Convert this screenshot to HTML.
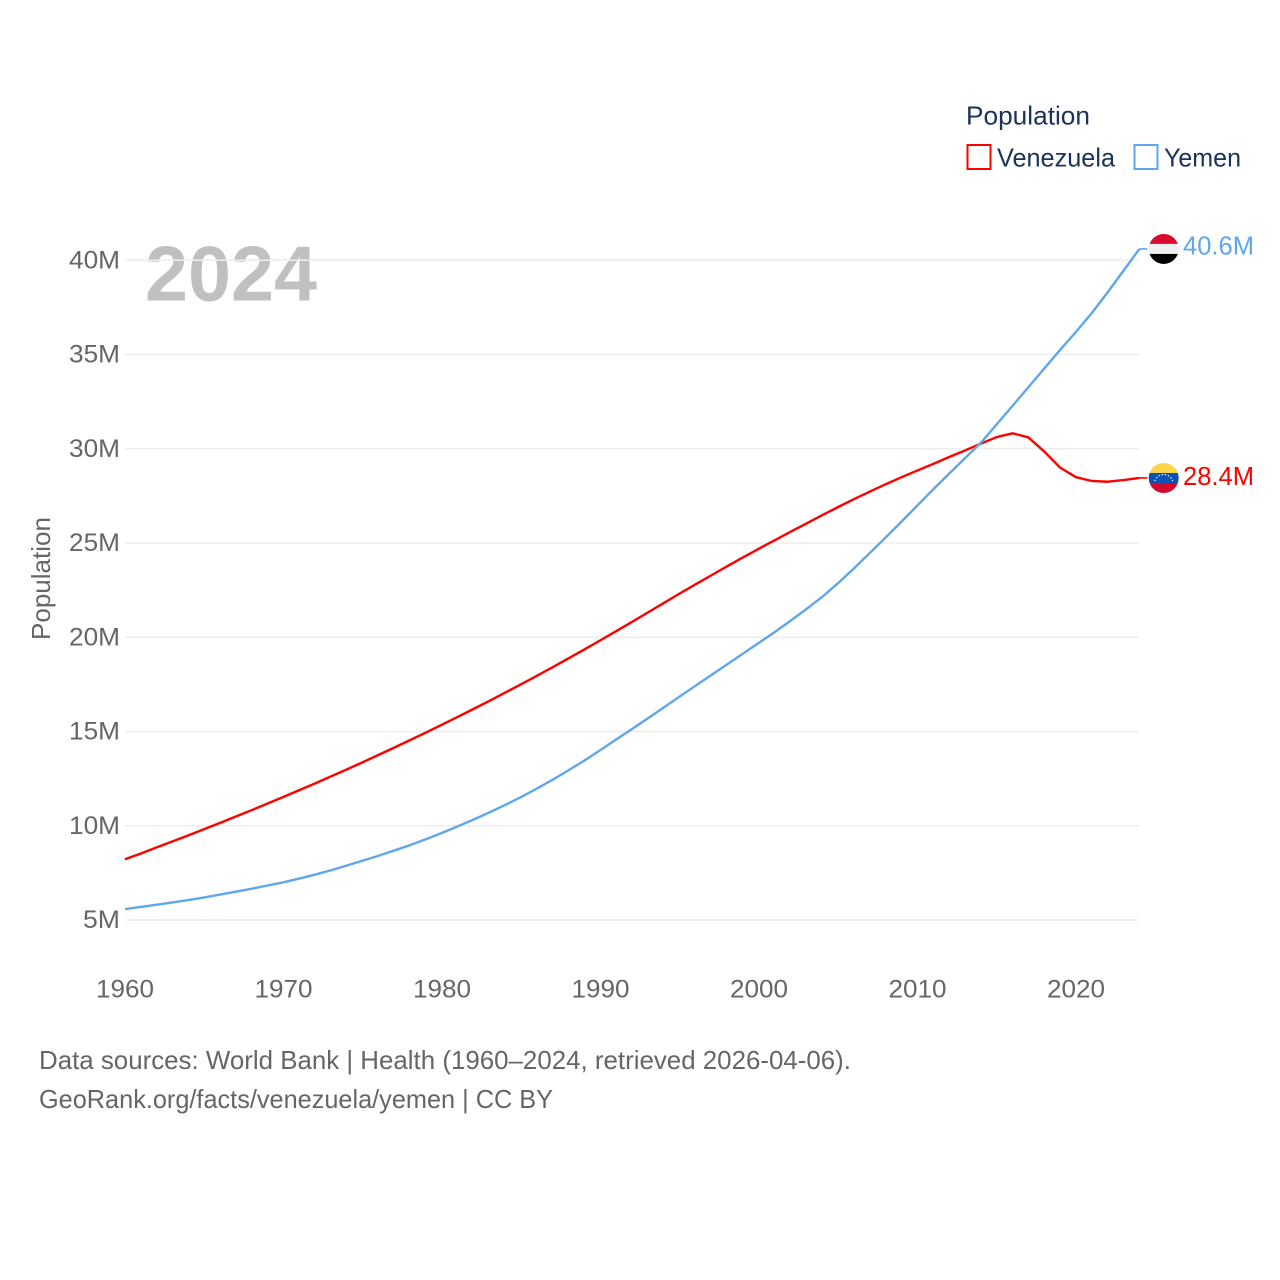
<!DOCTYPE html>
<html lang="en">
<head>
<meta charset="utf-8">
<title>Population: Venezuela and Yemen</title>
<style>
html,body{margin:0;padding:0;background:#fff;width:1280px;height:1280px;overflow:hidden}
svg{display:block}
text{font-family:"Liberation Sans",sans-serif;font-size:25px;fill:#666}
</style>
</head>
<body>
<svg id="chart" xmlns="http://www.w3.org/2000/svg" width="1280" height="1280" viewBox="0 0 1280 1280">
  <defs>
    <clipPath id="clip-flag"><circle cx="0" cy="0" r="15"></circle></clipPath>
  </defs>
  <rect width="1280" height="1280" fill="#fff"></rect>
  <text x="145" y="300.5" textLength="172" lengthAdjust="spacingAndGlyphs" style="font-size:78px;font-weight:bold;fill:#333;fill-opacity:.31">2024</text>
  <g id="grid"></g>
  <g id="y-axis"></g>
  <g id="x-axis"></g>
  <g id="series"></g>
  <g id="endpoints"></g>

  <text transform="translate(50,640) rotate(-90)" textLength="123" lengthAdjust="spacingAndGlyphs" style="font-size:26px">Population</text>

  <g>
    <text x="966" y="124.5" textLength="124" lengthAdjust="spacingAndGlyphs" style="font-size:26px;fill:#1a3358">Population</text>
    <rect x="967.5" y="145" width="23" height="24" fill="#fff" stroke="#ff0000" stroke-width="2"></rect>
    <text x="997" y="166.5" textLength="118" lengthAdjust="spacingAndGlyphs" style="font-size:26px;fill:#1a3358">Venezuela</text>
    <rect x="1134.5" y="145" width="23" height="24" fill="#fff" stroke="#5ea6ee" stroke-width="2"></rect>
    <text x="1164" y="166.5" textLength="77" lengthAdjust="spacingAndGlyphs" style="font-size:26px;fill:#1a3358">Yemen</text>
  </g>

  <text x="39" y="1069" textLength="812" lengthAdjust="spacingAndGlyphs" style="font-size:26px">Data sources: World Bank | Health (1960–2024, retrieved 2026-04-06).</text>
  <text x="39" y="1108" textLength="514" lengthAdjust="spacingAndGlyphs" style="font-size:26px">GeoRank.org/facts/venezuela/yemen | CC BY</text>
</svg>

<script>
const years = [1960,1961,1962,1963,1964,1965,1966,1967,1968,1969,1970,1971,1972,1973,1974,1975,1976,1977,1978,1979,1980,1981,1982,1983,1984,1985,1986,1987,1988,1989,1990,1991,1992,1993,1994,1995,1996,1997,1998,1999,2000,2001,2002,2003,2004,2005,2006,2007,2008,2009,2010,2011,2012,2013,2014,2015,2016,2017,2018,2019,2020,2021,2022,2023,2024];
const venezuela = [8.22,8.53,8.85,9.17,9.49,9.82,10.15,10.49,10.83,11.18,11.53,11.89,12.25,12.62,12.99,13.37,13.76,14.15,14.55,14.95,15.36,15.78,16.2,16.63,17.07,17.51,17.96,18.42,18.89,19.36,19.84,20.33,20.82,21.32,21.82,22.32,22.81,23.29,23.77,24.24,24.7,25.15,25.6,26.04,26.48,26.91,27.33,27.73,28.12,28.49,28.85,29.2,29.56,29.91,30.27,30.62,30.82,30.6,29.85,29.0,28.49,28.29,28.25,28.34,28.45];
const yemen = [5.58,5.69,5.81,5.93,6.06,6.2,6.35,6.5,6.66,6.83,7.0,7.2,7.41,7.64,7.89,8.15,8.41,8.69,8.98,9.29,9.62,9.97,10.33,10.71,11.11,11.53,11.98,12.45,12.95,13.47,14.02,14.58,15.14,15.7,16.28,16.86,17.43,18.0,18.57,19.14,19.71,20.28,20.88,21.5,22.15,22.88,23.66,24.48,25.3,26.14,27.0,27.85,28.68,29.5,30.32,31.3,32.28,33.27,34.26,35.25,36.2,37.2,38.3,39.45,40.6];
const yTicks = [5,10,15,20,25,30,35,40];
const xTicks = [1960,1970,1980,1990,2000,2010,2020];
const endLabels = ['28.4M','40.6M'];

const NS = 'http://www.w3.org/2000/svg';
function xScale(year){ return 125 + (year - 1960) * 15.85; }
function yScale(v){ return 920 - (v - 5) * 18.85; }
function make(tag, attrs, parent, txt){
  const el = document.createElementNS(NS, tag);
  for (const k in attrs) el.setAttribute(k, attrs[k]);
  if (txt !== undefined) el.textContent = txt;
  parent.appendChild(el);
  return el;
}
const gridG = document.getElementById('grid');
const yG = document.getElementById('y-axis');
const xG = document.getElementById('x-axis');
const seriesG = document.getElementById('series');
const endG = document.getElementById('endpoints');

yTicks.forEach(function(t){
  const line = make('line', {x1:125, x2:1139, y1:yScale(t), y2:yScale(t), stroke:'#eeeeee', 'stroke-width':1.6}, gridG);
  
  
  const s = t + 'M';
  const label = make('text', {x:120, y:yScale(t) + 8, 'text-anchor':'end', textLength:s.length === 2 ? 37 : 51, lengthAdjust:'spacingAndGlyphs'}, yG, s);
  
  
});

xTicks.forEach(function(t){
  const label = make('text', {x:xScale(t), y:997.5, 'text-anchor':'middle', textLength:58, lengthAdjust:'spacingAndGlyphs'}, xG, String(t));
  
  
});

function linePath(values){
  return values.map(function(v, i){
    return (i ? 'L' : 'M') + xScale(years[i]).toFixed(2) + ' ' + yScale(v).toFixed(2);
  }).join('');
}
const venezuelaLine = make('path', {d:linePath(venezuela), fill:'none', stroke:'#ff0000', 'stroke-width':2.4, 'stroke-linejoin':'round'}, seriesG);


const yemenLine = make('path', {d:linePath(yemen), fill:'none', stroke:'#5ea6ee', 'stroke-width':2.4, 'stroke-linejoin':'round'}, seriesG);



function endpoint(values, color, text, labelOffset){
  const last = values[values.length - 1];
  const x = xScale(years[years.length - 1]);
  const y = yScale(last);
  const tail = make('line', {x1:x, x2:x + 8, y1:y, y2:y, stroke:color, 'stroke-width':1.6}, endG);
  
  
  const label = make('text', {x:1183, y:y + labelOffset, textLength:71, lengthAdjust:'spacingAndGlyphs', style:'font-size:26px;fill:' + color}, endG, text);
  
  
  const flag = make('g', {transform:'translate(1163.7,' + y + ')', 'clip-path':'url(#clip-flag)'}, endG);
  
  
  return flag;
}

const venFlag = endpoint(venezuela, '#ff0000', endLabels[0], 7);
make('rect', {x:-16, y:-16, width:32, height:11, fill:'#fcd54a'}, venFlag);
make('rect', {x:-16, y:-5, width:32, height:10, fill:'#0a52b5'}, venFlag);
make('rect', {x:-16, y:5, width:32, height:11, fill:'#d4082e'}, venFlag);
make('path', {d:'M-9 3A9.5 9.5 0 0 1 9 3', fill:'none', stroke:'#fff', 'stroke-width':1.3, 'stroke-dasharray':'1.3 1.9'}, venFlag);

const yemFlag = endpoint(yemen, '#5ea6ee', endLabels[1], 5.5);
make('rect', {x:-16, y:-16, width:32, height:11, fill:'#dc0a2e'}, yemFlag);
make('rect', {x:-16, y:-5, width:32, height:10, fill:'#f0f0f0'}, yemFlag);
make('rect', {x:-16, y:5, width:32, height:11, fill:'#000000'}, yemFlag);
</script>
</body>
</html>
